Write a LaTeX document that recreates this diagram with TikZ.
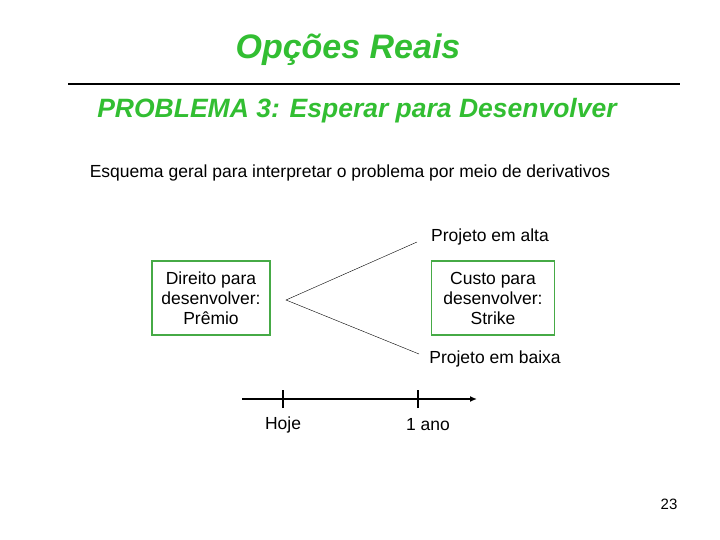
\documentclass[tikz,border=0pt]{standalone}
\usepackage{fontspec}
\setmainfont{Liberation Sans}
\usetikzlibrary{arrows.meta}
\begin{document}
\begin{tikzpicture}[x=1pt,y=-1pt,
  gbox/.style={draw=boxgreen, line width=1.2pt, align=center, inner sep=0pt},
  txt/.style={font=\fontsize{17.5}{20}\selectfont, align=center},
  hd/.style={text=titlegreen, font=\bfseries\itshape}]
\definecolor{titlegreen}{RGB}{50,190,50}
\definecolor{boxgreen}{RGB}{70,170,70}
\useasboundingbox (0,0) rectangle (720,540);
\node[hd, font=\fontsize{34}{38}\bfseries\itshape\selectfont] (title) at (348,50) {Opções Reais};
\coordinate (l1) at (68,84); \coordinate (l2) at (680,84);
\draw[line width=1.2pt] (l1) -- (l2);
\node[hd, font=\fontsize{26.5}{30}\bfseries\itshape\selectfont] (prob) at (357,111) {PROBLEMA 3: Esperar para Desenvolver};
\node[txt] (sub) at (350,173) {Esquema geral para interpretar o problema por meio de derivativos};
\node[gbox, txt, minimum width=118, minimum height=74] (left) at (211,298) {Direito para\\desenvolver:\\Prêmio};
\node[gbox, txt, minimum width=123, minimum height=74] (right) at (493,298) {Custo para\\desenvolver:\\Strike};
\coordinate (apex) at (286,300);
\coordinate (up) at (417,242);
\coordinate (dn) at (419,354);
\draw (up) -- (apex) -- (dn);
\node[txt] (alta) at (490,237) {Projeto em alta};
\node[txt] (baixa) at (495,359) {Projeto em baixa};
\coordinate (t0) at (242,399); \coordinate (t1) at (477,399);
\draw[line width=1.6pt,-{Latex[length=7pt,width=6pt]}] (t0) -- (t1);
\coordinate (h) at (283,399); \coordinate (a) at (418,399);
\draw[line width=1.6pt] ([yshift=-9]h) -- ([yshift=9]h);
\draw[line width=1.6pt] ([yshift=-9]a) -- ([yshift=9]a);
\node[txt] (hoje) at (283,425) {Hoje};
\node[txt] (ano) at (428,425) {1 ano};
\node[font=\fontsize{15}{17}\selectfont] (pg) at (669,504) {23};
\end{tikzpicture}
\end{document}
